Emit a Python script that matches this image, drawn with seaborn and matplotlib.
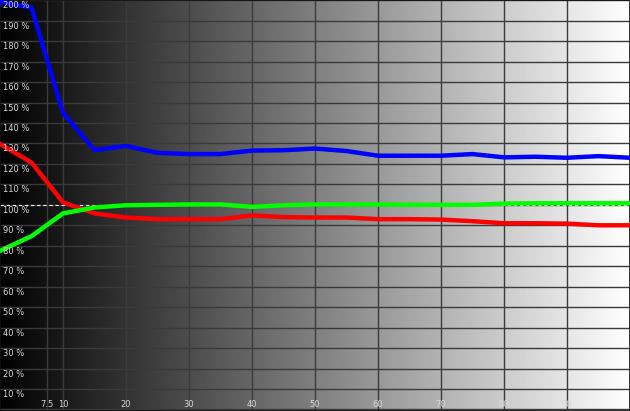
import numpy as np
import pandas as pd
import matplotlib
matplotlib.use("Agg")
import matplotlib.pyplot as plt
import seaborn as sns

# ---- data ----
x_levels = [0, 5, 10, 15, 20, 25, 30, 35, 40, 45, 50, 55, 60, 65, 70, 75, 80, 85, 90, 95, 100]
blue = [199.2, 196.4, 145.0, 126.7, 128.8, 125.4, 124.8, 124.8, 126.5, 126.7, 127.5, 126.3,
        124.0, 124.0, 124.0, 124.8, 123.2, 123.5, 123.0, 123.8, 123.0]
red = [129.7, 120.7, 101.2, 95.8, 93.8, 93.0, 93.0, 93.0, 94.8, 94.0, 93.8, 93.8,
       93.0, 93.0, 92.8, 92.0, 91.0, 91.0, 90.8, 90.0, 90.0]
green = [77.5, 84.7, 95.8, 98.7, 99.8, 100.0, 100.2, 100.2, 99.0, 99.8, 100.2, 100.2,
         100.2, 100.0, 100.0, 100.0, 100.6, 100.8, 100.8, 100.8, 100.8]
series_names = ["Blue", "Red", "Green"]
series_colors = {"Blue": "#0000ff", "Red": "#ff0000", "Green": "#00ff00"}

y_ticks = list(range(10, 201, 10))
y_tick_labels = [f"{v} %" for v in y_ticks]
x_ticks = [7.5, 10, 20, 30, 40, 50, 60, 70, 80, 90]
x_tick_labels = ["7.5", "10", "20", "30", "40", "50", "60", "70", "80", "90"]

df = pd.DataFrame({
    "x": x_levels * 3,
    "value": blue + red + green,
    "channel": ["Blue"] * len(x_levels) + ["Red"] * len(x_levels) + ["Green"] * len(x_levels),
})

# ---- figure ----
Y0, Y1 = -0.75, 200.1
X0, X1 = 0.0, 100.0
fig = plt.figure(figsize=(6.3, 4.11), dpi=100)
ax = fig.add_axes([0, 0, 1, 1])

grad = np.linspace(0, 1, 512).reshape(1, -1)
ax.imshow(grad, extent=[X0, X1, Y0, Y1], aspect="auto", cmap="gray",
          vmin=0, vmax=1, zorder=0, interpolation="bilinear")

for v in y_ticks + [0]:
    ax.axhline(v, color="#3a3a3a", lw=1.0, zorder=1)
for v in x_ticks:
    ax.axvline(v, color="#3a3a3a", lw=1.0, zorder=1)

ax.axhline(100, color="white", lw=0.8, ls=(0, (3, 2.5)), zorder=2)

sns.lineplot(data=df, x="x", y="value", hue="channel", hue_order=series_names,
             palette=series_colors, linewidth=3.2, legend=False, sort=False,
             ax=ax, zorder=3)

for v, lab in zip(y_ticks, y_tick_labels):
    ax.text(0.45, v - 0.5, lab, color="#d8d8d8", fontsize=6, ha="left", va="top",
            zorder=4, clip_on=True)
for v, lab in zip(x_ticks, x_tick_labels):
    ax.text(v, 2.6, lab, color="#d8d8d8", fontsize=6, ha="center", va="center", zorder=4)

ax.set_xlim(X0, X1)
ax.set_ylim(Y0, Y1)
ax.set_xticks([])
ax.set_yticks([])
ax.set_xlabel("")
ax.set_ylabel("")
for s in ax.spines.values():
    s.set_color("#101010")
    s.set_linewidth(1.2)

fig.savefig("out.png", dpi=100)
